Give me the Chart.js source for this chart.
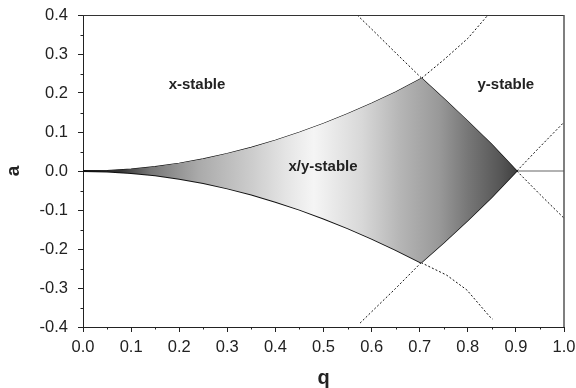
<!DOCTYPE html>
<html>
<head>
<meta charset="utf-8">
<script src="https://cdn.jsdelivr.net/npm/chart.js@4.4.0/dist/chart.umd.min.js"></script>
<style>
  body { margin: 0; background: #fff; }
  #wrap { width: 576px; height: 388px; }
</style>
</head>
<body>
<div id="wrap"><canvas id="chart" width="576" height="388"></canvas></div>
<script>
// boundary of the x/y stable region (q, a)
const qUpper = [0, 0.05, 0.1, 0.15, 0.2, 0.25, 0.3, 0.35, 0.4, 0.45, 0.5, 0.55, 0.6, 0.65, 0.704];
const aUpper = [0, 0.0013, 0.005, 0.0112, 0.0199, 0.031, 0.0446, 0.0605, 0.0787, 0.0991, 0.1218, 0.1466, 0.1734, 0.2023, 0.238];
const qLower = [0, 0.05, 0.1, 0.15, 0.2, 0.25, 0.3, 0.35, 0.4, 0.45, 0.5, 0.55, 0.6, 0.65, 0.703];
const aLower = [0, -0.0013, -0.005, -0.0112, -0.0199, -0.031, -0.0446, -0.0605, -0.0787, -0.0991, -0.1218, -0.1466, -0.1734, -0.2023, -0.235];
const qRightUp = [0.704, 0.75, 0.8, 0.85, 0.902];
const aRightUp = [0.238, 0.186, 0.128, 0.068, 0];
const qRightLow = [0.703, 0.75, 0.8, 0.85, 0.902];
const aRightLow = [-0.235, -0.184, -0.127, -0.067, 0];

// dotted continuations
const qDotUL = [0.57, 0.6, 0.65, 0.704];
const aDotUL = [0.4, 0.364, 0.303, 0.238];
const qDotLL = [0.576, 0.6, 0.65, 0.703];
const aDotLL = [-0.39, -0.361, -0.301, -0.235];
const qDotUR = [0.704, 0.75, 0.8, 0.842];
const aDotUR = [0.238, 0.285, 0.34, 0.4];
const qDotLR = [0.703, 0.756, 0.798, 0.846, 0.852];
const aDotLR = [-0.235, -0.267, -0.305, -0.374, -0.38];
const qDotR = [0.902, 0.95, 1.0];
const aDotRUp = [0, 0.062, 0.125];
const aDotRLow = [0, -0.06, -0.121];
const qAxisLine = [0.902, 1.0];
const aAxisLine = [0, 0];

const xTicks = [0, 0.1, 0.2, 0.3, 0.4, 0.5, 0.6, 0.7, 0.8, 0.9, 1.0];
const yTicks = [-0.4, -0.3, -0.2, -0.1, 0, 0.1, 0.2, 0.3, 0.4];

const regionLabels = [
  { text: "x-stable", q: 0.237, a: 0.22 },
  { text: "y-stable", q: 0.879, a: 0.22 },
  { text: "x/y-stable", q: 0.499, a: 0.01 },
];

// gradient stops: q position, grey
const shadeQ = [0.0, 0.077, 0.14, 0.24, 0.35, 0.42, 0.48, 0.58, 0.66, 0.74, 0.8, 0.87, 0.91];
const shadeC = ["#111", "#333", "#777", "#aaa", "#ccc", "#e4e4e4", "#f5f5f5", "#d8d8d8", "#b5b5b5", "#999", "#777", "#555", "#3a3a3a"];

const pts = (qs, as) => qs.map((q, i) => ({ x: q, y: as[i] }));

// closed outline for the shaded area
const shape = [
  ...pts(qUpper, aUpper),
  ...pts(qRightUp, aRightUp).slice(1),
  ...pts(qRightLow, aRightLow).reverse().slice(1),
  ...pts(qLower, aLower).reverse().slice(1),
];

const FONT = "'Liberation Sans', Arial, Helvetica, sans-serif";

const shade = (ctx) => {
  const chart = ctx.chart;
  if (!chart.chartArea) return "transparent";
  const xs = chart.scales.x;
  const x0 = xs.getPixelForValue(0);
  const x1 = xs.getPixelForValue(1);
  const g = chart.ctx.createLinearGradient(x0, 0, x1, 0);
  shadeQ.forEach((q, i) => g.addColorStop(q, shadeC[i]));
  return g;
};

const line = (data, opts) => Object.assign({
  data, showLine: true, pointRadius: 0, borderColor: "#111", borderWidth: 1.2, fill: false, tension: 0,
}, opts);

const extras = {
  id: "extras",
  afterDraw(chart) {
    const { ctx, chartArea: ca, scales: { x, y } } = chart;
    ctx.save();
    // top and right frame
    ctx.strokeStyle = "#333";
    ctx.lineWidth = 1;
    ctx.beginPath();
    ctx.moveTo(ca.left, ca.top + 0.5);
    ctx.lineTo(ca.right, ca.top + 0.5);
    ctx.stroke();
    ctx.strokeStyle = "#555";
    ctx.lineWidth = 1.5;
    ctx.beginPath();
    ctx.moveTo(ca.right, ca.top);
    ctx.lineTo(ca.right, ca.bottom);
    ctx.stroke();
    // minor ticks
    ctx.strokeStyle = "#222";
    ctx.lineWidth = 1;
    ctx.beginPath();
    for (let i = 0; i < xTicks.length - 1; i++) {
      const px = Math.round(x.getPixelForValue(xTicks[i] + 0.05)) + 0.5;
      ctx.moveTo(px, ca.bottom);
      ctx.lineTo(px, ca.bottom + 2.5);
    }
    for (let i = 0; i < yTicks.length - 1; i++) {
      const py = Math.round(y.getPixelForValue(yTicks[i] + 0.05)) + 0.5;
      ctx.moveTo(ca.left, py);
      ctx.lineTo(ca.left - 2.5, py);
    }
    ctx.stroke();
    // region labels
    ctx.fillStyle = "#222";
    ctx.font = "bold 15px " + FONT;
    ctx.textAlign = "center";
    ctx.textBaseline = "middle";
    regionLabels.forEach(l => {
      ctx.fillText(l.text, x.getPixelForValue(l.q), y.getPixelForValue(l.a));
    });
    ctx.restore();
  }
};

new Chart(document.getElementById("chart"), {
  type: "scatter",
  data: {
    datasets: [
      line(shape, { fill: "shape", backgroundColor: shade, borderWidth: 0, borderColor: "transparent" }),
      line(pts(qUpper, aUpper), { borderWidth: 1.2 }),
      line(pts(qLower, aLower), { borderWidth: 2 }),
      line(pts(qRightUp, aRightUp), { borderWidth: 1.2 }),
      line(pts(qRightLow, aRightLow), { borderWidth: 1.5 }),
      line(pts(qDotUL, aDotUL), { borderDash: [2, 2], borderWidth: 1 }),
      line(pts(qDotLL, aDotLL), { borderDash: [2, 2], borderWidth: 1 }),
      line(pts(qDotUR, aDotUR), { borderDash: [2, 2], borderWidth: 1 }),
      line(pts(qDotLR, aDotLR), { borderDash: [2, 2], borderWidth: 1 }),
      line(pts(qDotR, aDotRUp), { borderDash: [2, 2], borderWidth: 1 }),
      line(pts(qDotR, aDotRLow), { borderDash: [2, 2], borderWidth: 1 }),
      line(pts(qAxisLine, aAxisLine), { borderColor: "#666", borderWidth: 1.2 }),
    ],
  },
  options: {
    responsive: false,
    animation: false,
    layout: { padding: { top: 15, right: 12, left: 0, bottom: 0 } },
    plugins: { legend: { display: false }, tooltip: { enabled: false } },
    scales: {
      x: {
        type: "linear",
        min: 0, max: 1,
        afterFit: (s) => { s.height = 61; s.paddingLeft = 0; s.paddingRight = 0; },
        afterBuildTicks: (s) => { s.ticks = xTicks.map(v => ({ value: v })); },
        border: { color: "#222", width: 1 },
        grid: { drawOnChartArea: false, tickLength: 5, tickColor: "#222" },
        ticks: {
          color: "#222", padding: 6, maxRotation: 0,
          font: { family: FONT, size: 16.5 },
          callback: (v) => (Math.abs(v) < 1e-9 ? 0 : v).toFixed(1),
        },
        title: {
          display: true, text: "q", color: "#222",
          font: { family: FONT, size: 20, weight: "bold", lineHeight: 1 },
          padding: { top: 0, bottom: 0 },
        },
      },
      y: {
        type: "linear",
        min: -0.4, max: 0.4,
        afterFit: (s) => { s.width = 83; s.paddingTop = 0; s.paddingBottom = 0; },
        afterBuildTicks: (s) => { s.ticks = yTicks.map(v => ({ value: v })); },
        border: { color: "#222", width: 1 },
        grid: { drawOnChartArea: false, tickLength: 5, tickColor: "#222" },
        ticks: {
          color: "#222", padding: 10,
          font: { family: FONT, size: 16.5 },
          callback: (v) => (Math.abs(v) < 1e-9 ? 0 : v).toFixed(1),
        },
        title: {
          display: true, text: "a", color: "#222",
          font: { family: FONT, size: 19, weight: "bold", lineHeight: 1 },
          padding: { top: 4, bottom: 0 },
        },
      },
    },
  },
  plugins: [extras],
});
</script>
</body>
</html>
